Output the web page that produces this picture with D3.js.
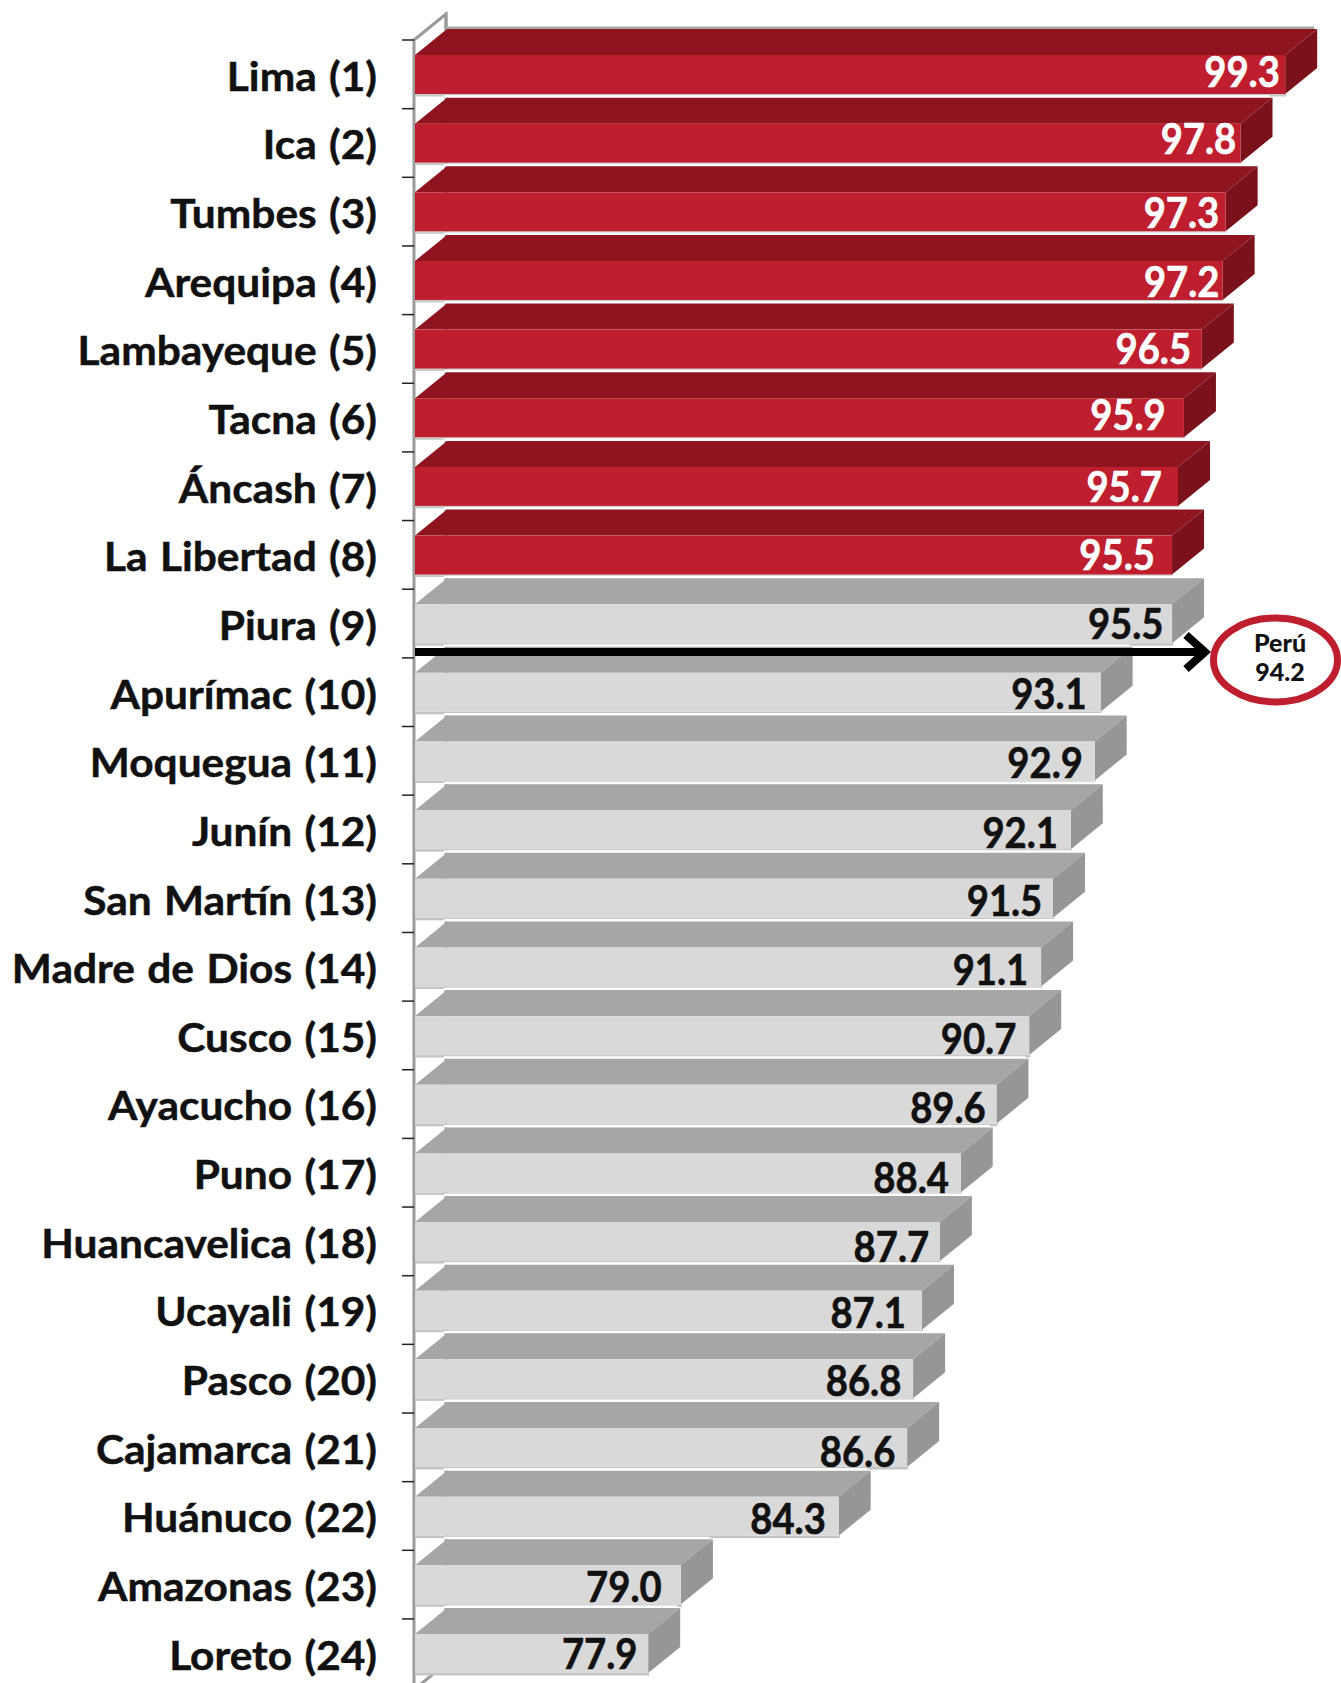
<!DOCTYPE html>
<html><head><meta charset="utf-8">
<script src="https://cdn.jsdelivr.net/npm/d3@7"></script>
<style>html,body{margin:0;padding:0;background:#fff;overflow:hidden}svg{display:block}</style>
</head><body><div id="chart"></div>
<script>
const categories = ["Lima (1)","Ica (2)","Tumbes (3)","Arequipa (4)","Lambayeque (5)","Tacna (6)","Áncash (7)","La Libertad (8)","Piura (9)","Apurímac (10)","Moquegua (11)","Junín (12)","San Martín (13)","Madre de Dios (14)","Cusco (15)","Ayacucho (16)","Puno (17)","Huancavelica (18)","Ucayali (19)","Pasco (20)","Cajamarca (21)","Huánuco (22)","Amazonas (23)","Loreto (24)"];
const values = [99.3,97.8,97.3,97.2,96.5,95.9,95.7,95.5,95.5,93.1,92.9,92.1,91.5,91.1,90.7,89.6,88.4,87.7,87.1,86.8,86.6,84.3,79.0,77.9];
const highlighted = 8; // first eight bars are red
const peruLabel = "Perú", peruValue = 94.2;
// hand placement of the value labels, as in the source chart
const labelGap = [5,4,6,3,10,17,15,16,8,13,11,12,10,12,12,10,11,10,15,11,11,12,18,10];
const labelDrop = [29,27,32,33,31,29,32,31,31,33,33,34,34,34,34,35,36,36,34,33,35,34,33,32];

const W=1341,H=1683;
const svg=d3.select("#chart").append("svg").attr("width",W).attr("height",H);
const x=d3.scaleLinear().domain([70,100]).range([413,1306]);
const y=d3.scalePoint().domain(d3.range(categories.length+1)).range([40,40+68.65*24]);
const DX=32,DY=26,FT=15,FB=54;
const axisColor="#9a9a9a";
const pal={red:{f:"#BE1E2D",t:"#8E1520",s:"#7A111B",e:"#c9c9c9"},grey:{f:"#D9D9D9",t:"#A6A6A6",s:"#969696",e:"#c4c4c4"}};
const poly=p=>p.map(q=>q.join(",")).join(" ");

// wall
const x0=414;
const wall=svg.append("g").attr("fill","none").attr("stroke",axisColor);
wall.append("path").attr("stroke-width",3).attr("d",`M${x0},${y(24)+20} L${x0},${y(0)} L${x0+DX},${y(0)-DY} L${x0+DX},${y(0)-11}`);
wall.append("line").attr("stroke-width",3).attr("x1",x0+DX).attr("x2",x0+DX).attr("y1",y(0)-DY).attr("y2",y(23)+FT);
wall.append("line").attr("stroke-width",3).attr("x1",x0).attr("y1",y(24)+2).attr("x2",x0+DX).attr("y2",y(24)-DY+2);

// ticks
svg.append("g").selectAll("line").data(d3.range(24)).join("line")
 .attr("x1",402).attr("x2",x0).attr("y1",i=>y(i)).attr("y2",i=>y(i)).attr("stroke","#222").attr("stroke-width",1.5);

// bars
const bars=svg.append("g").selectAll("g").data(values).join("g");
bars.each(function(v,i){
 const g=d3.select(this),c=i<highlighted?pal.red:pal.grey;
 const L=x0+1,R=x(v),T=y(i)+FT,B=y(i)+FB;
 g.append("rect").attr("x",L+DX-3).attr("y",T-DY-2.5).attr("width",R-L).attr("height",2.5).attr("fill",i===0?"#a8a8a8":"#fff");
 g.append("rect").attr("x",L).attr("y",B).attr("width",R-L+1).attr("height",2.5).attr("fill",c.e);
 g.append("polygon").attr("points",poly([[L,T],[L+DX,T-DY],[R+DX,T-DY],[R,T]])).attr("fill",c.t);
 g.append("polygon").attr("points",poly([[R,T],[R+DX,T-DY],[R+DX,B-DY],[R,B]])).attr("fill",c.s);
 g.append("rect").attr("x",L).attr("y",T).attr("width",R-L).attr("height",B-T).attr("fill",c.f);
});

// category labels
svg.append("g").selectAll("text").data(categories).join("text")
 .attr("transform",(d,i)=>`translate(377,${y(i)+35}) scale(1.035,1)`)
 .attr("text-anchor","end").attr("dominant-baseline","central").attr("word-spacing",2)
 .attr("font-family","Lato").attr("font-weight",700).attr("font-size",41).attr("fill","#111")
 .attr("stroke","#111").attr("stroke-width",0.5).text(d=>d);

// value labels
svg.append("g").selectAll("text").data(values).join("text")
 .attr("transform",(d,i)=>`translate(${x(d)-labelGap[i]*1.07},${y(i)+labelDrop[i]*1.07}) scale(0.91,1)`)
 .attr("text-anchor","end").attr("dominant-baseline","central")
 .attr("font-family","Lato").attr("font-weight",700).attr("font-size",42)
 .attr("fill",(d,i)=>i<highlighted?"#fff":"#111")
 .attr("stroke",(d,i)=>i<highlighted?"#fff":"#111").attr("stroke-width",0.6).text(d=>d.toFixed(1));

// Peru marker
const ay=652,ax=1207;
svg.append("line").attr("x1",x0+1).attr("x2",ax-6).attr("y1",ay).attr("y2",ay).attr("stroke","#000").attr("stroke-width",8);
svg.append("path").attr("d",`M${ax-21},${ay-17} L${ax-2},${ay} L${ax-21},${ay+17}`).attr("fill","none").attr("stroke","#000").attr("stroke-width",8);
svg.append("ellipse").attr("cx",1275.5).attr("cy",660).attr("rx",62).attr("ry",42).attr("fill","#fff").attr("stroke","#BE1E2D").attr("stroke-width",7);
svg.append("text").attr("x",1280).attr("y",642).attr("text-anchor","middle").attr("dominant-baseline","central")
 .attr("font-family","Lato").attr("font-weight",900).attr("font-size",25).attr("fill","#111").text(peruLabel);
svg.append("text").attr("x",1280).attr("y",671).attr("text-anchor","middle").attr("dominant-baseline","central")
 .attr("font-family","Lato").attr("font-weight",900).attr("font-size",25).attr("fill","#111").text(peruValue.toFixed(1));
</script></body></html>
